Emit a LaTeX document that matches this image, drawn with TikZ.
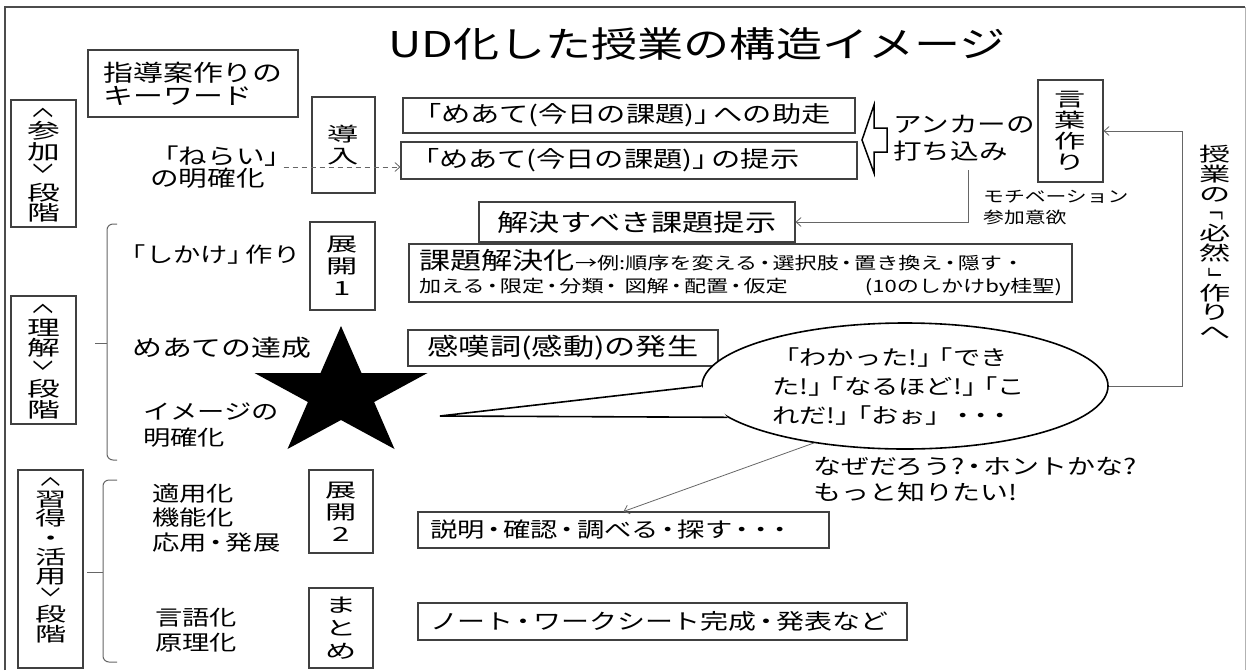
\documentclass[tikz,border=0pt]{standalone}
\usepackage{fontspec}
\usepackage{graphicx}
\usetikzlibrary{shapes.geometric,arrows.meta}
\newfontfamily\jp[FakeStretch=1.3]{Noto Sans CJK JP}
\newfontfamily\jpv[FakeStretch=1.6]{Noto Sans CJK JP}
\newcommand\jfs[2]{\fontsize{#1}{#2}\selectfont\lineskiplimit=-50pt\lineskip=0pt}
\newcommand\Lq{\kern-.45em「}
\newcommand\Rq{」\kern-.45em}
\newcommand\nd{\kern-.2em・\kern-.2em}
\newcommand\vrot[2]{\raisebox{#1}[14pt][2pt]{\jp\rotatebox[origin=c]{-90}{#2}}}
\newcommand\vLa{\vrot{5pt}{〈}}
\newcommand\vRa{\vrot{-4pt}{〉}}
\newcommand\vLq{\vrot{5pt}{「}}
\newcommand\vRq{\vrot{-4pt}{」}}
\begin{document}
\begin{tikzpicture}[x=1pt,y=-1pt,
  bx/.style={draw=black!75, line width=1.1pt, inner sep=0pt, font=\jp\jfs{22}{26}, align=center},
  lbx/.style={bx, inner xsep=9pt, align=left},
  vbx/.style={bx, font=\jpv\jfs{19.5}{22}},
  txt/.style={inner sep=0pt, align=left, font=\jp\jfs{22}{24}},
  vtxt/.style={inner sep=0pt, align=center, font=\jpv\jfs{19.5}{19.8}},
  conn/.style={draw=black!60, line width=0.8pt},
  arrowbarb/.style={-{Straight Barb[length=5pt,width=9pt]}},
  brk/.style={draw=black!60, line width=1pt, rounded corners=6pt},
]
\useasboundingbox (0,0) rectangle (1247,670);
% frame
\draw[black!70, line width=1.2pt] (5,670) -- (5,7) -- (1245,7);
\draw[black!30, line width=1pt] (1245,7) -- (1245,670);

% title
\node[inner sep=0pt, font=\jp\jfs{35.5}{44}] (title) at (697,44) {UD化した授業の構造イメージ};

% keyword box
\node[bx, minimum width=210pt, minimum height=67pt, font=\jp\jfs{23}{23}, align=left] (kw) at (193,83.5) {指導案作りの\\キーワード};

% stage boxes
\node[vbx, minimum width=65pt, minimum height=127pt, font=\jpv\jfs{20.5}{20.5}] (sanka) at (43.5,163.5) {\vLa\\参\\加\\\vRa\\段\\階};
\node[vbx, minimum width=65pt, minimum height=128pt, font=\jpv\jfs{20.5}{20.5}] (rikai) at (43.5,360) {\vLa\\理\\解\\\vRa\\段\\階};
\node[vbx, minimum width=65pt, minimum height=198pt] (shutoku) at (50.5,569) {};
\node[vtxt, font=\jpv\jfs{19.5}{19.2}] (shutokuT) at (51,558) {\vLa\\習\\得\\・\\活\\用\\\vRa\\段\\階};

% brackets
\draw[brk] (117,224) -- (107,224) -- (107,460) -- (117,460);
\draw[brk] (95,343) -- (107,343);
\draw[brk] (117,480) -- (103,480) -- (103,662) -- (117,662);
\draw[brk] (87,572) -- (103,572);

% step boxes
\node[vbx, minimum width=63pt, minimum height=96pt] (dounyu) at (343.5,145) {導\\入};
\node[vbx, minimum width=65pt, minimum height=88pt] (tenkai1) at (342.5,266) {展\\開\\1};
\node[vbx, minimum width=64pt, minimum height=83pt] (tenkai2) at (341,511.5) {展\\開\\2};
\node[vbx, minimum width=64pt, minimum height=80pt, font=\jpv\jfs{19.5}{23}] (matome) at (341,628) {ま\\と\\め};
\node[vbx, minimum width=65pt, minimum height=102pt, font=\jpv\jfs{19.5}{21}] (kotoba) at (1070.5,131) {言\\葉\\作\\り};

% left labels
\node[txt, anchor=west, font=\jp\jfs{22}{22}] (nerai) at (150,167) {「ねらい\Rq{}\\の明確化};
\node[txt, anchor=west, font=\jp\jfs{21}{24}] (shikake) at (128,255) {\Lq{}しかけ\Rq{}作り};
\node[txt, anchor=west, font=\jp\jfs{23}{24}] (tassei) at (132,348) {めあての達成};
\node[txt, anchor=west, font=\jp\jfs{21}{26}] (imej) at (143,425) {イメージの\\明確化};
\node[txt, anchor=west, font=\jp\jfs{21}{24.5}] (tekiyo) at (152,518) {適用化\\機能化\\応用\nd{}発展};
\node[txt, anchor=west, font=\jp\jfs{21}{25}] (gengo) at (155,630) {言語化\\原理化};

% main boxes
\node[lbx, text width=434pt, minimum height=35pt, font=\jp\jfs{22.5}{26}] (meate1) at (629,115.5) {「めあて(今日の課題)\Rq{}への助走};
\node[lbx, text width=438pt, minimum height=37pt, font=\jp\jfs{22.5}{26}] (meate2) at (629,160.5) {「めあて(今日の課題)\Rq{}の提示};
\node[bx, minimum width=316pt, minimum height=40pt, font=\jp\jfs{24}{26}] (kaiketsu) at (637,222) {解決すべき課題提示};
\node[lbx, inner xsep=10pt, text width=643pt, minimum height=58pt, font=\jp\jfs{17}{23}] (kadai) at (740.5,273) {{\jfs{24}{23}課題解決化}→例:順序を変える\nd{}選択肢\nd{}置き換え\nd{}隠す・\\加える\nd{}限定\nd{}分類\nd{} 図解\nd{}配置\nd{}仮定\hfill(10のしかけby桂聖)};
\node[bx, minimum width=310pt, minimum height=36pt, font=\jp\jfs{24}{26}] (kantan) at (563,348) {感嘆詞(感動)の発生};
\node[lbx, inner xsep=12pt, text width=387pt, minimum height=36pt, font=\jp\jfs{21}{24}] (setsumei) at (623.5,530) {説明\nd{}確認\nd{}調べる\nd{}探す\nd{}\nd{}\nd{}};
\node[lbx, inner xsep=12pt, text width=465pt, minimum height=37pt, font=\jp\jfs{21.5}{24}] (note) at (662.5,621.5) {ノート\nd{}ワークシート完成\nd{}発表など};

% anchor block arrow
\draw[line width=1.5pt, fill=white, line join=miter] (862,140) -- (874,105) -- (874,128) -- (887,128) -- (887,152) -- (874,152) -- (874,173) -- cycle;
\node[txt, anchor=west, font=\jp\jfs{22}{26.5}] (anchor) at (893,138) {アンカーの\\打ち込み};
\node[txt, anchor=west, font=\jp\jfs{16}{21}] (motiv) at (983,207.5) {モチベーション\\参加意欲};
\node[vtxt] (hitsuzen) at (1215,242.5) {授\\業\\の\\\vLq\\必\\然\\\vRq\\作\\り\\へ};

% star
\fill (341,326) -- (361.5,373) -- (427.5,373) -- (374.1,402) -- (394.5,449) -- (341,420) -- (287.5,449) -- (307.9,402) -- (254.5,373) -- (320.5,373) -- cycle;

% speech bubble
\node[ellipse, draw, line width=1.6pt, fill=white, inner sep=0pt, minimum width=406pt, minimum height=126pt] (bubble) at (905,386) {};
\coordinate (tailtip) at (440,416);
\fill[white] (tailtip) -- (bubble.180) -- (bubble.190) -- cycle;
\draw[line width=1.6pt, line join=miter] (bubble.180) -- (tailtip) -- (bubble.190);
\node[txt, anchor=west, font=\jp\jfs{21}{29}] (bubbleT) at (772,387) {「わかった!\Rq\Lq{}でき\\た!\Rq\Lq{}なるほど!\Rq\Lq{}こ\\れだ!\Rq\Lq{}おぉ」\nd{}\nd{}\nd{}};
\node[txt, anchor=west, font=\jp\jfs{21.5}{26}] (naze) at (813,480) {なぜだろう?\nd{}ホントかな?\\もっと知りたい!};

% connectors
\draw[conn, arrowbarb, dash pattern=on 5pt off 4pt] (nerai.east) -- (nerai.east -| meate2.west);
\coordinate (ancB) at (968,170);
\draw[conn, arrowbarb] (ancB) |- (kaiketsu.east);
\draw[conn, arrowbarb] (bubble.east) -- ++(74,0) |- (kotoba.east);
\draw[conn, arrowbarb] (bubble.212) -- (setsumei.north);
\end{tikzpicture}
\end{document}
